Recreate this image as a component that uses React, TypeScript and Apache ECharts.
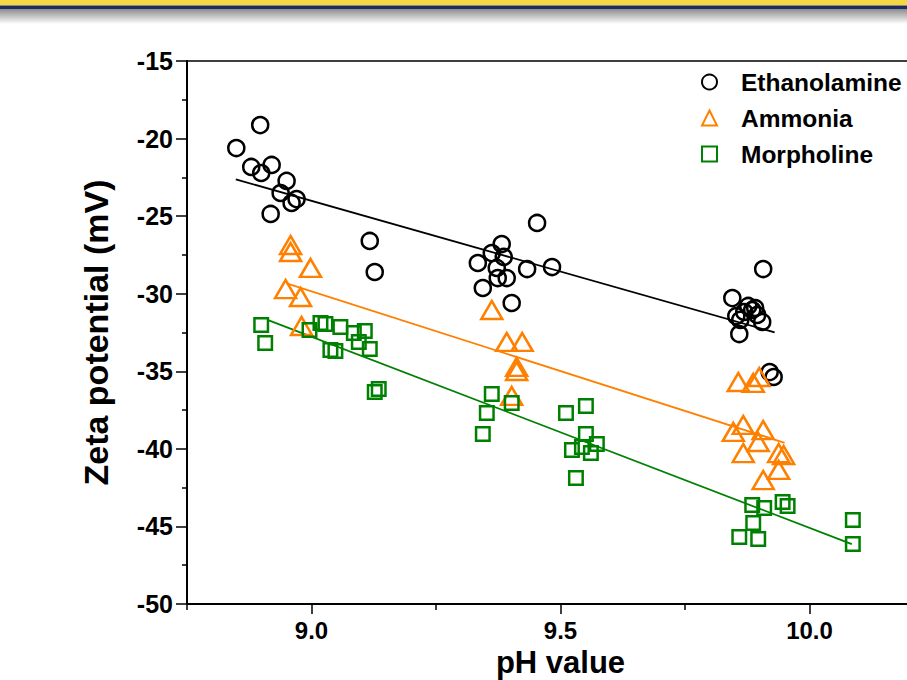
import React, { useEffect, useRef } from "react";
import * as echarts from "echarts";

const seriesNames = ["Ethanolamine", "Ammonia", "Morpholine"];
const xTickLabels = [9.0, 9.5, 10.0];
const xMinorTicks = [8.75, 9.25, 9.75, 10.25];

const ethanolamine: number[][] = [
  [8.849, -20.61], [8.897, -19.13], [8.879, -21.83], [8.899, -22.22], [8.92, -21.7],
  [8.95, -22.73], [8.938, -23.51], [8.96, -24.15], [8.97, -23.9], [8.918, -24.86],
  [9.117, -26.6], [9.127, -28.6], [9.453, -25.44], [9.382, -26.8], [9.362, -27.38],
  [9.334, -28.02], [9.386, -27.63], [9.372, -28.34], [9.374, -28.99], [9.392, -28.99],
  [9.433, -28.41], [9.483, -28.28], [9.344, -29.63], [9.402, -30.6], [9.907, -28.41],
  [9.845, -30.28], [9.853, -31.44], [9.861, -31.69], [9.869, -31.18], [9.877, -30.79],
  [9.885, -31.05], [9.891, -30.92], [9.895, -31.37], [9.905, -31.82], [9.859, -32.6],
  [9.92, -35.05], [9.928, -35.37],
];

const ammonia: number[][] = [
  [8.958, -26.86], [8.958, -27.31], [8.998, -28.34], [8.948, -29.7], [8.978, -30.21],
  [8.98, -32.08], [9.362, -31.05], [9.392, -33.11], [9.423, -33.11], [9.412, -34.72],
  [9.412, -34.98], [9.402, -36.59], [9.857, -35.69], [9.887, -35.75], [9.899, -35.37],
  [9.847, -38.91], [9.867, -38.46], [9.907, -38.79], [9.897, -39.56], [9.867, -40.27],
  [9.938, -40.27], [9.948, -40.4], [9.938, -41.36], [9.907, -42.01],
];

const morpholine: number[][] = [
  [8.899, -32.02], [8.907, -33.18], [8.996, -32.34], [9.018, -31.89], [9.028, -31.95],
  [9.058, -32.15], [9.085, -32.53], [9.107, -32.4], [9.095, -33.11], [9.117, -33.56],
  [9.038, -33.63], [9.048, -33.69], [9.127, -36.34], [9.135, -36.14], [9.362, -36.46],
  [9.402, -37.04], [9.352, -37.69], [9.344, -39.04], [9.511, -37.69], [9.551, -37.24],
  [9.551, -39.04], [9.523, -40.07], [9.543, -39.88], [9.561, -40.27], [9.573, -39.69],
  [9.531, -41.88], [9.885, -43.62], [9.909, -43.81], [9.946, -43.43], [9.956, -43.68],
  [9.887, -44.78], [9.859, -45.68], [9.897, -45.81], [10.087, -44.59], [10.087, -46.13],
];

const ethanolamineFit: number[][] = [[8.848, -22.63], [9.93, -32.49]];
const ammoniaFit: number[][] = [[8.95, -29.33], [9.95, -39.61]];
const morpholineFit: number[][] = [[8.913, -31.7], [10.085, -46.14]];

const colors = ["#000000", "#FF8000", "#008000"];
const FONT = "'Liberation Sans', Arial, sans-serif";

export default function App() {
  const ref = useRef<HTMLDivElement>(null);
  useEffect(() => {
    if (!ref.current) return;
    const chart = echarts.init(ref.current, null, { renderer: "svg" });
    const scatterBase = (name: string, data: number[][], symbol: string, size: any, color: string) => ({
      type: "scatter",
      name,
      data,
      symbol,
      symbolSize: size,
      itemStyle: { color: "rgba(255,255,255,0)", borderColor: color, borderWidth: 2.5, opacity: 1 },
      emphasis: { disabled: true },
      z: 3,
    });
    const fit = (data: number[][], color: string) => ({
      type: "line",
      data,
      symbol: "none",
      lineStyle: { color, width: 1.8 },
      silent: true,
      z: 2,
    });
    chart.setOption({
      animation: false,
      backgroundColor: "#ffffff",
      textStyle: { fontFamily: FONT },
      graphic: [
        { type: "rect", shape: { x: 0, y: 0, width: 907, height: 5.5 }, style: { fill: "#F3D843" }, silent: true },
        { type: "rect", shape: { x: 0, y: 5.5, width: 907, height: 3.5 }, style: { fill: "#1E2B5E" }, silent: true },
        {
          type: "rect",
          shape: { x: 0, y: 9, width: 907, height: 15 },
          style: {
            fill: new echarts.graphic.LinearGradient(0, 0, 0, 1, [
              { offset: 0, color: "#8c8c8c" },
              { offset: 1, color: "#ffffff" },
            ]),
          },
          silent: true,
        },
      ],
      grid: {
        left: 187,
        top: 61,
        right: -27,
        bottom: 76,
        outerBoundsMode: "none",
        containLabel: false,
        show: true,
        borderColor: "#000",
        borderWidth: 1.5,
        backgroundColor: "rgba(0,0,0,0)",
      },
      legend: {
        data: seriesNames,
        orient: "vertical",
        left: 696,
        top: 64,
        itemWidth: 15,
        itemHeight: 15,
        itemGap: 10,
        symbolKeepAspect: true,
        selectedMode: false,
        textStyle: {
          fontFamily: FONT,
          fontWeight: "bold",
          fontSize: 24.5,
          color: "#000",
          lineHeight: 26,
          padding: [0, 0, 0, 19],
        },
      },
      xAxis: [
        {
          type: "value",
          min: 8.75,
          max: 10.25,
          name: "pH value",
          nameLocation: "middle",
          nameGap: 36,
          nameTextStyle: { fontFamily: FONT, fontWeight: "bold", fontSize: 31, color: "#000", lineHeight: 31 },
          axisLine: { show: true, onZero: false, lineStyle: { color: "#000", width: 2 } },
          axisTick: { show: true, customValues: xTickLabels, length: 10, lineStyle: { color: "#000", width: 1.5 } },
          axisLabel: {
            customValues: xTickLabels,
            formatter: (v: number) => v.toFixed(1),
            fontFamily: FONT,
            fontWeight: "bold",
            fontSize: 24,
            color: "#000",
            margin: 14,
          },
          splitLine: { show: false },
        },
        {
          type: "value",
          min: 8.75,
          max: 10.25,
          position: "bottom",
          axisLine: { show: false },
          axisTick: { show: true, customValues: xMinorTicks, length: 6, lineStyle: { color: "#000", width: 1.5 } },
          axisLabel: { show: false },
          splitLine: { show: false },
        },
      ],
      yAxis: {
        type: "value",
        min: -50,
        max: -15,
        interval: 5,
        name: "Zeta potential (mV)",
        nameLocation: "middle",
        nameGap: 74,
        nameTextStyle: { fontFamily: FONT, fontWeight: "bold", fontSize: 34, color: "#000" },
        axisLine: { show: true, onZero: false, lineStyle: { color: "#000", width: 2 } },
        axisTick: { show: true, length: 11, lineStyle: { color: "#000", width: 1.5 } },
        minorTick: { show: true, splitNumber: 2, length: 5, lineStyle: { color: "#000", width: 1.5 } },
        axisLabel: { fontFamily: FONT, fontWeight: "bold", fontSize: 25, color: "#000", margin: 14 },
        splitLine: { show: false },
        minorSplitLine: { show: false },
      },
      series: [
        fit(ethanolamineFit, colors[0]),
        fit(ammoniaFit, colors[1]),
        fit(morpholineFit, colors[2]),
        scatterBase(seriesNames[0], ethanolamine, "circle", 16, colors[0]),
        scatterBase(seriesNames[1], ammonia, "triangle", [21, 18], colors[1]),
        scatterBase(seriesNames[2], morpholine, "rect", 13.5, colors[2]),
      ],
    });
    return () => chart.dispose();
  }, []);
  return <div ref={ref} style={{ position: "fixed", left: 0, top: 0, width: 907, height: 680 }} />;
}
